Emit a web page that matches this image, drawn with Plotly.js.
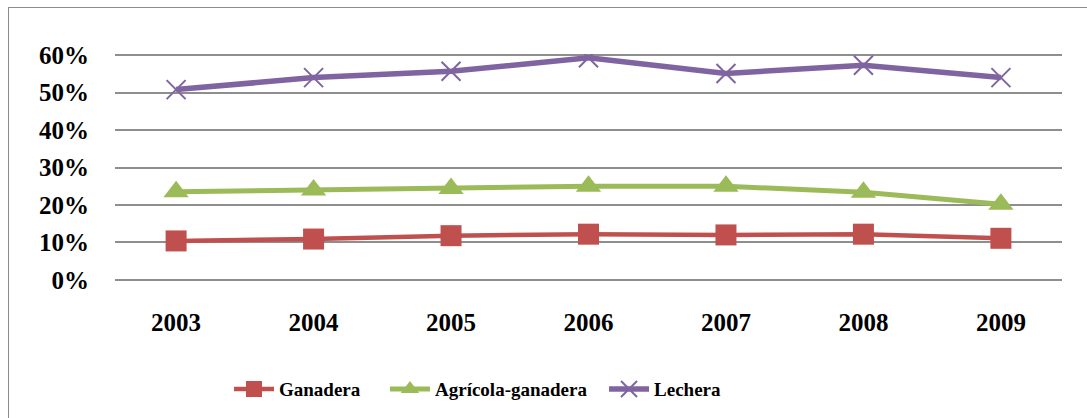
<!DOCTYPE html>
<html>
<head>
<meta charset="utf-8">
<script src="https://cdn.plot.ly/plotly-3.0.1.min.js"></script>
<style>
  body { margin: 0; background: #fff; overflow: hidden; }
  #wrap { position: relative; width: 1087px; height: 418px; }
  #frame { position: absolute; left: 8px; top: 7px; width: 1100px; height: 430px;
           border: 1.5px solid #8c8c8c; pointer-events: none; }
  #chart { position: absolute; left: 0; top: 0; width: 1087px; height: 418px; }
</style>
</head>
<body>
<div id="wrap">
  <div id="chart"></div>
  <div id="frame"></div>
</div>
<script>
// 年份
const years = ['2003', '2004', '2005', '2006', '2007', '2008', '2009'];

// 各類型比例
const ganadera = [0.104, 0.109, 0.118, 0.122, 0.120, 0.122, 0.111];
const agricolaGanadera = [0.235, 0.240, 0.244, 0.250, 0.250, 0.234, 0.202];
const lechera = [0.508, 0.540, 0.557, 0.593, 0.551, 0.573, 0.540];

const serif = 'Liberation Serif, Times New Roman, serif';

const legendFont = { family: serif, size: 19, weight: 'bold' };

const traces = [
    {
        x: years, y: ganadera, name: 'Ganadera', legend: 'legend',
        type: 'scatter', mode: 'lines+markers',
        line: { color: '#C0504D', width: 4.5 },
        marker: { symbol: 'square', size: 21, color: '#C0504D' }
    },
    {
        x: years, y: agricolaGanadera, name: 'Agrícola-ganadera', legend: 'legend2',
        type: 'scatter', mode: 'lines+markers',
        line: { color: '#9BBB59', width: 5 },
        marker: { symbol: 'triangle-up', size: 22, color: '#9BBB59' }
    },
    {
        x: years, y: lechera, name: 'Lechera', legend: 'legend3',
        type: 'scatter', mode: 'lines+markers',
        line: { color: '#8064A2', width: 5.5 },
        marker: { symbol: 'x-thin', size: 19, color: '#8064A2',
                  line: { color: '#8064A2', width: 2 } }
    }
];

// 每個圖例獨立定位
function legendAt(x) {
    return {
        orientation: 'h', x: x, xanchor: 'left', y: -0.47, yanchor: 'middle',
        itemwidth: 40, font: legendFont, bgcolor: 'rgba(0,0,0,0)'
    };
}

const layout = {
    width: 1087,
    height: 418,
    margin: { l: 115, r: 25, t: 54, b: 136 },
    paper_bgcolor: 'rgba(0,0,0,0)',
    plot_bgcolor: 'rgba(0,0,0,0)',
    font: { family: serif, color: '#000' },
    xaxis: {
        type: 'category',
        showgrid: false,
        zeroline: false,
        showline: false,
        ticks: 'outside',
        ticklen: 19,
        tickcolor: 'rgba(0,0,0,0)',
        tickfont: { family: serif, size: 25, weight: 'bold' }
    },
    yaxis: {
        range: [-0.003, 0.603],
        tickvals: [0, 0.1, 0.2, 0.3, 0.4, 0.5, 0.6],
        tickformat: '.0%',
        showgrid: true,
        gridcolor: '#8e8e8e',
        gridwidth: 2,
        zeroline: false,
        showline: false,
        ticks: 'outside',
        ticklen: 20,
        tickcolor: 'rgba(0,0,0,0)',
        tickfont: { family: serif, size: 25, weight: 'bold' }
    },
    showlegend: true,
    legend: legendAt(0.1204),
    legend2: legendAt(0.2851),
    legend3: legendAt(0.5164)
};

Plotly.newPlot('chart', traces, layout, { displayModeBar: false, staticPlot: true });
</script>
</body>
</html>
